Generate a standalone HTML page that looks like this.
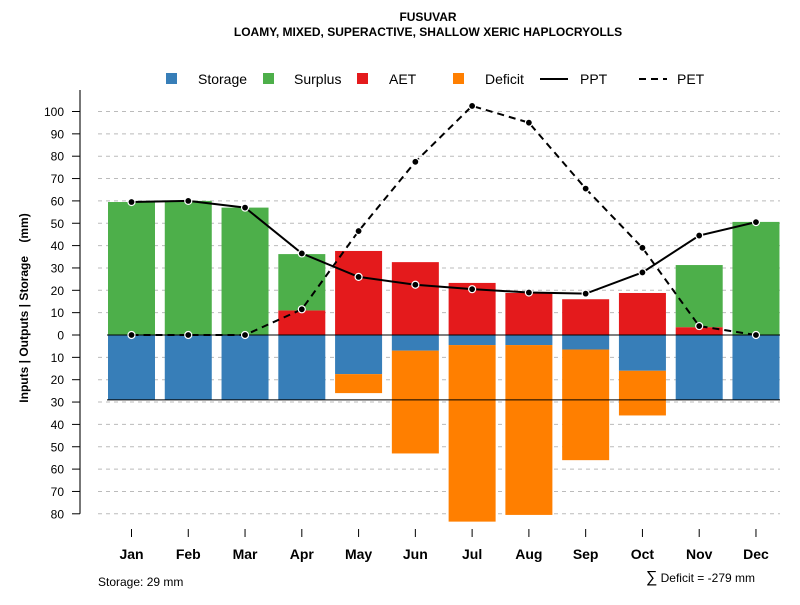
<!DOCTYPE html>
<html><head><meta charset="utf-8"><style>
body{margin:0;background:#fff}
svg text{font-family:"Liberation Sans",Arial,sans-serif}
</style></head><body>
<svg id="chart" width="800" height="600" xmlns="http://www.w3.org/2000/svg">
<text x="428" y="21" text-anchor="middle" font-size="12" font-weight="bold">FUSUVAR</text>
<text x="428" y="36" text-anchor="middle" font-size="12" font-weight="bold">LOAMY, MIXED, SUPERACTIVE, SHALLOW XERIC HAPLOCRYOLLS</text>
<g id="legend">
<rect x="166" y="73" width="11" height="11" fill="#377eb8"/>
<text x="198" y="84" font-size="14">Storage</text>
<rect x="263" y="73" width="11" height="11" fill="#4daf4a"/>
<text x="294" y="84" font-size="14">Surplus</text>
<rect x="357" y="73" width="11" height="11" fill="#e41a1c"/>
<text x="389" y="84" font-size="14">AET</text>
<rect x="453" y="73" width="11" height="11" fill="#ff7f00"/>
<text x="485" y="84" font-size="14">Deficit</text>
<line x1="540" y1="79" x2="568" y2="79" stroke="#000" stroke-width="2"/>
<text x="580" y="84" font-size="14">PPT</text>
<line x1="639" y1="79" x2="667" y2="79" stroke="#000" stroke-width="2" stroke-dasharray="7,5"/>
<text x="677" y="84" font-size="14">PET</text>
</g>
<text transform="translate(28,308) rotate(-90)" text-anchor="middle" font-size="12" font-weight="bold">Inputs | Outputs | Storage&#160;&#160;&#160;&#160;(mm)</text>
<g id="grid"></g><g id="bars"></g><g id="lines"></g><g id="axes"></g>
<text x="98" y="586" font-size="12">Storage: 29 mm</text>
<text x="755" y="582" text-anchor="end" font-size="12"><tspan font-size="16">∑</tspan> Deficit = -279 mm</text>
</svg>
<script>
const months=["Jan","Feb","Mar","Apr","May","Jun","Jul","Aug","Sep","Oct","Nov","Dec"];
const storage=[29,29,29,29,17.5,7,4.5,4.5,6.5,16,29,29];
const deficit=[0,0,0,0,8.5,46,79,76,49.5,20,0,0];
const aet=[0,0,0,11,37.6,32.6,23.3,18.8,16,18.8,3.5,0];
const surplus=[59.5,60,57,25.2,0,0,0,0,0,0,27.8,50.6];
const ppt=[59.5,60,57,36.5,26,22.5,20.5,19,18.5,28,44.5,50.5];
const pet=[0,0,0,11.5,46.5,77.5,102.5,95,65.5,39,4,0];
const upTicks=[0,10,20,30,40,50,60,70,80,90,100];
const downTicks=[10,20,30,40,50,60,70,80];
const maxStorage=29;
const NS="http://www.w3.org/2000/svg";
const y0=335,k=2.235;
const yUp=v=>y0-v*k, yDn=v=>y0+v*k;
const xC=i=>131.5+i*56.77;
const bw=47;
function mk(t,a,p){const e=document.createElementNS(NS,t);for(const n in a)e.setAttribute(n,a[n]);document.getElementById(p).appendChild(e);return e;}
upTicks.concat(downTicks.map(v=>-v)).forEach(v=>{
  if(v===0)return;
  const y=v>0?yUp(v):yDn(-v);
  const g=mk("line",{x1:98,x2:780,y1:y,y2:y,stroke:"#bbb","stroke-dasharray":"4,4"},"grid");
  
  
});
months.forEach((m,i)=>{
  const x=xC(i)-bw/2;
  const s=mk("rect",{x:x,y:y0,width:bw,height:storage[i]*k,fill:"#377eb8"},"bars");
  
  
  if(deficit[i]>0){const d=mk("rect",{x:x,y:yDn(storage[i]),width:bw,height:deficit[i]*k,fill:"#ff7f00"},"bars");
  
  }
  if(aet[i]>0){const a=mk("rect",{x:x,y:yUp(aet[i]),width:bw,height:aet[i]*k,fill:"#e41a1c"},"bars");
  
  }
  if(surplus[i]>0){const u=mk("rect",{x:x,y:yUp(aet[i]+surplus[i]),width:bw,height:surplus[i]*k,fill:"#4daf4a"},"bars");
  
  }
});
const zl=mk("line",{x1:107,x2:780,y1:y0,y2:y0,stroke:"#000","stroke-width":1},"bars");


const sl=mk("line",{x1:107,x2:780,y1:yDn(maxStorage),y2:yDn(maxStorage),stroke:"#000","stroke-width":1},"bars");


function series(arr,name,dash){
  const pl=mk("polyline",{points:arr.map((v,i)=>xC(i)+","+yUp(v)).join(" "),fill:"none",stroke:"#000","stroke-width":2,"stroke-dasharray":dash},"lines");
  
  
  arr.forEach((v,i)=>{const c=mk("circle",{cx:xC(i),cy:yUp(v),r:3.5,fill:"#000",stroke:"#fff","stroke-width":1.2},"lines");
  
  });
}
series(pet,"pet","7,5");
series(ppt,"ppt","none");
const ya=mk("line",{x1:80,x2:80,y1:90,y2:yDn(80),stroke:"#777","stroke-width":2},"axes");


upTicks.forEach(v=>{const y=yUp(v);
  const t=mk("line",{x1:72,x2:80,y1:y,y2:y,stroke:"#000"},"axes");
  
  
  const l=mk("text",{x:64,y:y+4.5,"text-anchor":"end","font-size":12},"axes");l.textContent=v;
  
  });
downTicks.forEach(v=>{const y=yDn(v);
  const t=mk("line",{x1:72,x2:80,y1:y,y2:y,stroke:"#000"},"axes");
  
  
  const l=mk("text",{x:64,y:y+4.5,"text-anchor":"end","font-size":12},"axes");l.textContent=v;
  
  });
months.forEach((m,i)=>{const x=xC(i);
  const t=mk("line",{x1:x,x2:x,y1:529,y2:537,stroke:"#000"},"axes");
  
  
  const l=mk("text",{x:x,y:559,"text-anchor":"middle","font-size":14,"font-weight":"bold"},"axes");l.textContent=m;
  
  });
</script>
</body></html>
